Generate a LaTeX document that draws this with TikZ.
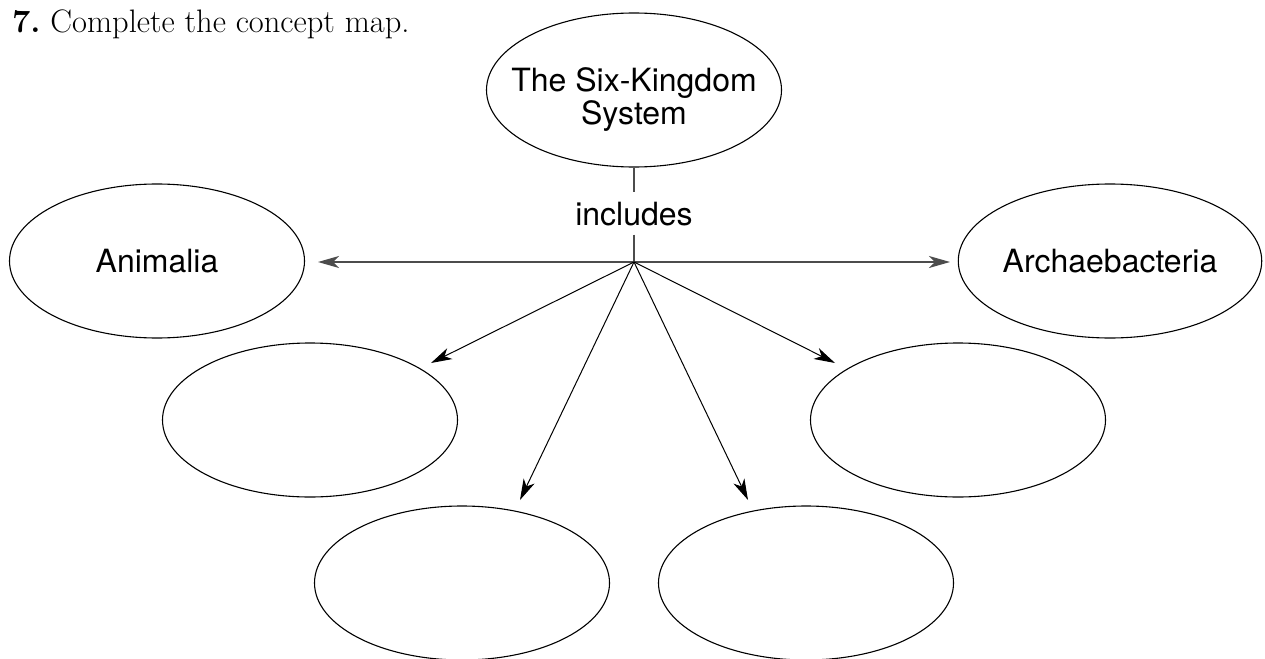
\documentclass[tikz,border=0pt]{standalone}
\usepackage{fontspec}
\setsansfont{TeX Gyre Heros}
\usetikzlibrary{shapes.geometric,arrows.meta}
\tikzset{
  kingdom/.style={draw=black, line width=1.1pt, ellipse, minimum width=295pt, minimum height=154pt, inner sep=0pt,
    font=\sffamily\fontsize{32}{33}\selectfont, align=center},
  labeltext/.style={inner sep=0pt, font=\sffamily\fontsize{32}{33}\selectfont, align=center},
  mainline/.style={draw=black!70, line width=1.6pt},
  spoke/.style={draw=black, line width=1pt},
  tip/.style={-{Stealth[length=21pt,width=12pt,inset=6pt]}},
}
\begin{document}
\begin{tikzpicture}[x=1pt,y=-1pt]
\useasboundingbox[fill=white] (0,0) rectangle (1265,658);
\node[anchor=base west, inner sep=0pt, font=\fontsize{32.5}{36}\selectfont] (title) at (12,33) {\textbf{7.}\ Complete the concept map.};

\node[kingdom] (top) at (634,90) {};
\node[labeltext] (toptext) at (634,100) {The Six-Kingdom\\System};
\node[kingdom] (anim) at (157,261) {Animalia};
\node[kingdom] (arch) at (1110,261) {Archaebacteria};
\node[kingdom] (ml) at (310,420) {};
\node[kingdom] (mr) at (958,420) {};
\node[kingdom] (bl) at (462,583) {};
\node[kingdom] (br) at (806,583) {};

\node[anchor=base, inner xsep=0pt, inner ysep=9pt, font=\sffamily\fontsize{32}{34}\selectfont] (inc) at (634,225) {includes};

\coordinate (hub) at (634,262);
\coordinate (tanim) at (318,262);
\coordinate (tarch) at (950,262);
\coordinate (tml) at (431,363);
\coordinate (tmr) at (835,363);
\coordinate (tbl) at (520,500);
\coordinate (tbr) at (748,500);

\draw[mainline] (top) -- (inc);
\draw[mainline] (inc) -- (hub);
\draw[mainline, tip] (hub) -- (tanim);
\draw[mainline, tip] (hub) -- (tarch);
\draw[spoke, tip] (hub) -- (tml);
\draw[spoke, tip] (hub) -- (tmr);
\draw[spoke, tip] (hub) -- (tbl);
\draw[spoke, tip] (hub) -- (tbr);
\end{tikzpicture}
\end{document}
